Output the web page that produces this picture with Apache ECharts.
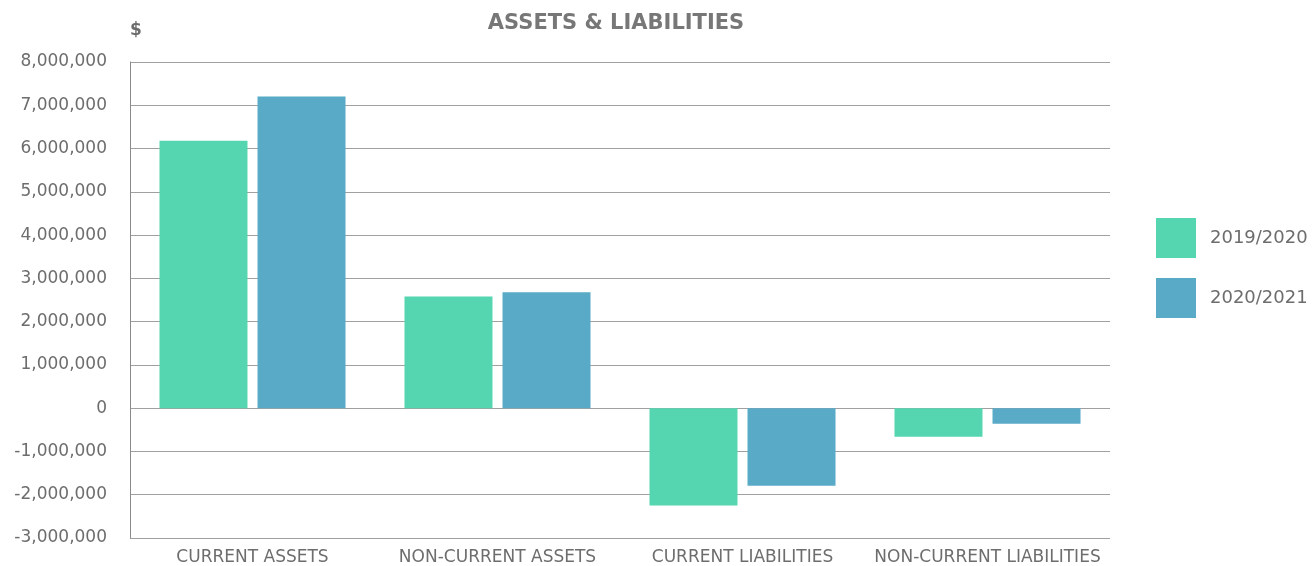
<!DOCTYPE html>
<html><head><meta charset="utf-8">
<script src="https://cdn.jsdelivr.net/npm/echarts@6/dist/echarts.min.js"></script>
<style>html,body{margin:0;padding:0;background:#fff}#c{width:1314px;height:566px}</style>
</head><body><div id="c"></div>
<script>
const categories = ['CURRENT ASSETS', 'NON-CURRENT ASSETS', 'CURRENT LIABILITIES', 'NON-CURRENT LIABILITIES'];
const seriesNames = ['2019/2020', '2020/2021'];
const values2019 = [6180000, 2580000, -2250000, -660000];
const values2020 = [7200000, 2680000, -1790000, -360000];
const yMin = -3000000, yMax = 8000000, yInterval = 1000000;

const txt = '#6d6d6d', font = 'DejaVu Sans';
const chart = echarts.init(document.getElementById('c'));
chart.setOption({
  animation: false,
  color: ['#55d6b0', '#58aac6'],
  graphic: [
    { type: 'text', x: 616, y: 24, style: { text: 'ASSETS & LIABILITIES', fill: '#777777', font: 'bold 21px DejaVu Sans', align: 'center', verticalAlign: 'middle' } },
    { type: 'text', left: 130, top: 22, style: { text: '$', fill: txt, font: 'bold 17px DejaVu Sans' } }
  ],
  legend: { orient: 'vertical', left: 1156, top: 218, padding: 0, itemWidth: 40, itemHeight: 40, itemGap: 20, icon: 'rect',
    textStyle: { color: txt, fontFamily: font, fontSize: 18, padding: [0, 0, 0, 9] } },
  grid: { left: 130, top: 62, width: 980, height: 477 },
  xAxis: { type: 'category', data: categories, position: 'bottom',
    axisLine: { show: false, onZero: false }, axisTick: { show: false },
    axisLabel: { color: txt, fontFamily: font, fontSize: 17, margin: 11, interval: 0 } },
  yAxis: { type: 'value', min: yMin, max: yMax, interval: yInterval,
    axisLine: { show: true, lineStyle: { color: '#8a8a8a', width: 1 } },
    axisTick: { show: false },
    splitLine: { lineStyle: { color: '#a0a0a0', width: 1 } },
    axisLabel: { color: txt, fontFamily: font, fontSize: 17, margin: 23,
      formatter: v => v.toLocaleString('en-US') } },
  series: [
    { name: seriesNames[0], type: 'bar', data: values2019, barWidth: 88, barGap: '11.4%' },
    { name: seriesNames[1], type: 'bar', data: values2020, barWidth: 88 }
  ]
});
</script></body></html>
